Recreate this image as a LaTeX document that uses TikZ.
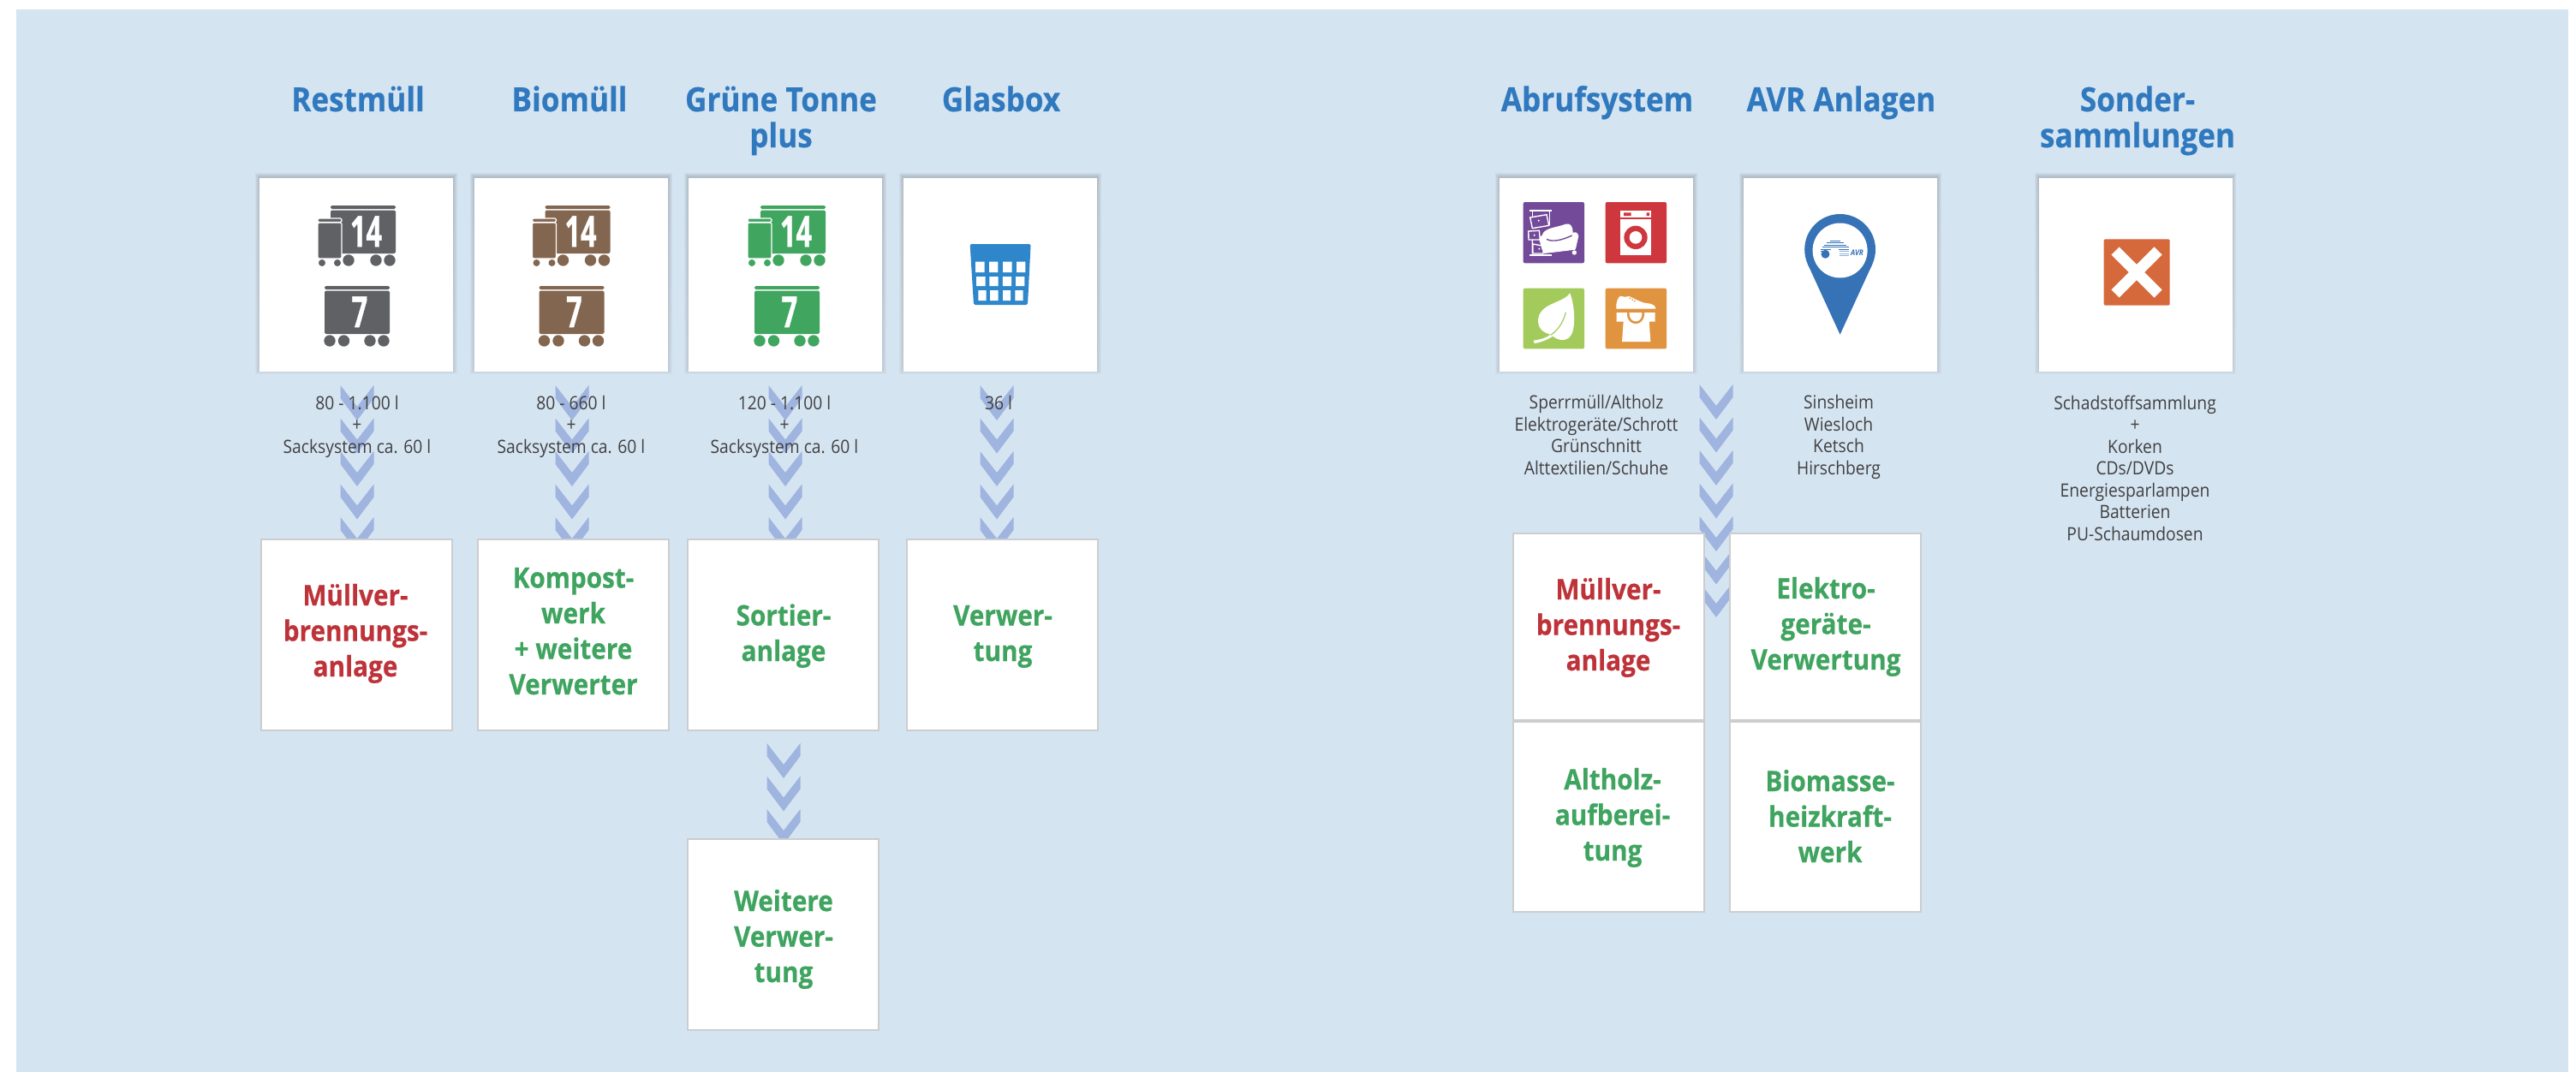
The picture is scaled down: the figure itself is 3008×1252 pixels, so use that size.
\documentclass[tikz,border=0pt]{standalone}
\usepackage{fontspec}
\setmainfont[FakeStretch=.9]{Open Sans}
\definecolor{bgblue}{HTML}{D5E4F1}
\definecolor{chev}{HTML}{9FB4DE}
\definecolor{titleblue}{HTML}{3079BF}
\definecolor{boxgreen}{HTML}{3FA45F}
\definecolor{boxred}{HTML}{BE3339}
\definecolor{txt}{HTML}{404041}
\definecolor{edge}{HTML}{CCCDCF}
\definecolor{shade}{HTML}{5A6E80}
\definecolor{bingrey}{HTML}{5F6165}
\definecolor{binbrown}{HTML}{836650}
\definecolor{bingreen}{HTML}{40A65F}
\definecolor{basket}{HTML}{2E86CB}
\definecolor{ipurple}{HTML}{734A9A}
\definecolor{ired}{HTML}{CF373E}
\definecolor{igreen}{HTML}{A2CB5B}
\definecolor{iorange}{HTML}{E19440}
\definecolor{pinblue}{HTML}{3572B6}
\definecolor{xorange}{HTML}{D5693C}
\tikzset{
  topbox/.style={fill=white,inner sep=0pt,minimum width=113pt,minimum height=113pt},
  lowbox/.style={fill=white,draw=edge,line width=1pt,inner sep=0pt,minimum width=111.5pt,minimum height=111.5pt},
  title/.style={inner sep=0pt,anchor=base,align=center,text=titleblue,font=\fontsize{19.5}{21}\selectfont\bfseries\addfontfeature{FakeBold=.5}},
  small/.style={inner sep=0pt,anchor=base,align=center,text=txt,font=\fontsize{10.7}{12.75}\selectfont},
  boxlabel/.style={inner sep=0pt,anchor=base,align=center,font=\fontsize{16.5}{20.75}\selectfont\bfseries\addfontfeature{FakeBold=.5}},
  digit/.style={inner sep=0pt,anchor=base,text=white,font=\fontsize{25}{25}\selectfont\bfseries\addfontfeature{FakeBold=1}},
}
\newcommand{\softshadow}[4]{%
  \foreach \d in {1,...,5}{\fill[shade,opacity=.022] (#1-\d,#2-\d-1) rectangle (#3+\d,#4+\d-2);}}
\newcommand{\chevrons}[3]{%
  \foreach \k in {1,...,#3}{%
    \pgfmathsetmacro{\ty}{#2+(\k-1)*38.5}
    \fill[chev] (#1-19.5,\ty) -- (#1,\ty+25) -- (#1+19.5,\ty) -- (#1+19.5,\ty+15) -- (#1,\ty+41) -- (#1-19.5,\ty+15) -- cycle;}}
\newcommand{\binicon}[3]{%
  \begin{scope}[shift={(#2,0)}]
    \fill[#3,rounded corners=.8pt] (386,240) rectangle (462,244);
    \fill[#3,rounded corners=.8pt] (386,245.5) rectangle (462,296);
    \foreach \cx in {407,439,455}{\fill[#3] (\cx,304) circle[radius=6.7];}
    \node[digit] (#1a) at (427.5,288) {\scalebox{.72}[1]{14}};
    \fill[#3,draw=white,line width=.6pt,rounded corners=.8pt] (371,260) rectangle (399,302);
    \fill[#3,draw=white,line width=.6pt,rounded corners=.8pt] (371,255) rectangle (399,259.5);
    \foreach \cx in {376,394}{\fill[#3] (\cx,307) circle[radius=4];}
    \fill[#3,rounded corners=.8pt] (379,334) rectangle (455,338);
    \fill[#3,rounded corners=.8pt] (379,339.5) rectangle (455,390);
    \foreach \cx in {385,401.5,432,448}{\fill[#3] (\cx,398) circle[radius=6.7];}
    \node[digit] (#1b) at (420,382) {\scalebox{.72}[1]{7}};
  \end{scope}}
\begin{document}
\begin{tikzpicture}[x=0.5pt,y=-0.5pt]
\useasboundingbox (0,0) rectangle (3008,1252);
\fill[white] (0,0) rectangle (3008,1252);
\fill[bgblue] (19,11) rectangle (2999,1252);
% chevrons
\chevrons{417}{450}{5}
\chevrons{668}{450}{5}
\chevrons{917}{450}{5}
\chevrons{1164}{450}{5}
\chevrons{915}{868}{3}
\chevrons{2004}{449}{7}
% top boxes
\softshadow{303}{208}{529}{434}
\softshadow{554}{208}{780}{434}
\softshadow{804}{208}{1030}{434}
\softshadow{1055}{208}{1281}{434}
\softshadow{1751}{208}{1977}{434}
\softshadow{2036}{208}{2262}{434}
\softshadow{2381}{208}{2606}{434}
\node[topbox] (rest) at (416,321) {};
\node[topbox] (bio) at (667,321) {};
\node[topbox] (gruen) at (917,321) {};
\node[topbox] (glas) at (1168,321) {};
\node[topbox] (abruf) at (1864,321) {};
\node[topbox] (avr) at (2149,321) {};
\node[topbox] (sonder) at (2493.5,321) {};
% lower boxes
\node[lowbox] (l1) at (416,741) {};
\node[lowbox] (l2) at (669.5,741) {};
\node[lowbox] (l3) at (914,741) {};
\node[lowbox] (l4) at (1170,741) {};
\node[lowbox] (l5) at (914,1091) {};
\node[lowbox,minimum height=109pt] (r1) at (1878,732) {};
\node[lowbox,minimum height=111pt] (r2) at (1878,954) {};
\node[lowbox,minimum height=109pt] (r3) at (2131,732) {};
\node[lowbox,minimum height=111pt] (r4) at (2131,954) {};
% titles
\node[title] (t1) at (418,130) {Restmüll};
\node[title] (t2) at (665,130) {Biomüll};
\node[title] (t3) at (912,172) {Grüne Tonne\\plus};
\node[title] (t4) at (1169,130) {Glasbox};
\node[title] (t5) at (1865,130) {Abrufsystem};
\node[title] (t6) at (2150,130) {AVR Anlagen};
\node[title] (t7) at (2496,172) {Sonder-\\sammlungen};
% small texts
\node[small] (s1) at (417,529) {80 - 1.100 l\\+\\Sacksystem ca. 60 l};
\node[small] (s2) at (667,529) {80 - 660 l\\+\\Sacksystem ca. 60 l};
\node[small] (s3) at (916,529) {120 - 1.100 l\\+\\Sacksystem ca. 60 l};
\node[small] (s4) at (1166,478) {36 l};
\node[small] (s5) at (1864,554) {Sperrmüll/Altholz\\Elektrogeräte/Schrott\\Grünschnitt\\Alttextilien/Schuhe};
\node[small] (s6) at (2147,554) {Sinsheim\\Wiesloch\\Ketsch\\Hirschberg};
\node[small] (s7) at (2493,631) {Schadstoffsammlung\\+\\Korken\\CDs/DVDs\\Energiesparlampen\\Batterien\\PU-Schaumdosen};
% box labels
\node[boxlabel,text=boxred] (b1) at (415,790) {Müllver-\\brennungs-\\anlage};
\node[boxlabel,text=boxgreen] (b2) at (669.5,811) {Kompost-\\werk\\+ weitere\\Verwerter};
\node[boxlabel,text=boxgreen] (b3) at (915,772) {Sortier-\\anlage};
\node[boxlabel,text=boxgreen] (b4) at (1171,772) {Verwer-\\tung};
\node[boxlabel,text=boxgreen] (b5) at (915,1147) {Weitere\\Verwer-\\tung};
\node[boxlabel,text=boxred] (b6) at (1878,783) {Müllver-\\brennungs-\\anlage};
\node[boxlabel,text=boxgreen] (b7) at (2132,782) {Elektro-\\geräte-\\Verwertung};
\node[boxlabel,text=boxgreen] (b8) at (1883,1005) {Altholz-\\aufberei-\\tung};
\node[boxlabel,text=boxgreen] (b9) at (2137,1007) {Biomasse-\\heizkraft-\\werk};
% bin icons
\binicon{ra}{0}{bingrey}
\binicon{ba}{250.5}{binbrown}
\binicon{ga}{502}{bingreen}
% basket
\fill[basket,rounded corners=.8pt] (1132.6,285) -- (1203.6,285) -- (1200,356) -- (1137,356) -- cycle;
\fill[white] (1139.2,305.7) rectangle (1149.5,318) (1155,305.7) rectangle (1165.3,318) (1171.2,305.7) rectangle (1181.5,318) (1187,305.7) rectangle (1197.4,318);
\fill[white] (1140.2,323) rectangle (1150.5,334) (1155.3,323) rectangle (1165.7,334) (1170.9,323) rectangle (1181.2,334) (1186,323) rectangle (1196.3,334);
\fill[white] (1142.3,339) rectangle (1151.7,351) (1156,339) rectangle (1165.7,351) (1171,339) rectangle (1180,351) (1185.4,339) rectangle (1194.6,351);
% four icons
\begin{scope}[shift={(1770,230)},x=0.16667pt,y=-0.16667pt]
  \fill[ipurple,rounded corners=1pt] (26,18) rectangle (240,232);
  \fill[ired,rounded corners=1pt] (314,18) rectangle (528,232);
  \fill[igreen,rounded corners=1pt] (26,320) rectangle (240,532);
  \fill[iorange,rounded corners=1pt] (314,320) rectangle (528,532);
  % dresser
  \begin{scope}[draw=white,line width=.7pt]
    \fill[white] (48,45) rectangle (125,52);
    \draw (58,52) -- (58,70) (118,52) -- (118,100);
    \draw (50,72) -- (108,62) -- (116,100) -- (58,110) -- cycle;
    \fill[white] (80,83) circle[radius=3.5];
    \draw (44,120) -- (82,118) -- (85,150) -- (45,150) -- cycle;
    \fill[white] (65,134) circle[radius=3.5];
    \draw (58,150) -- (58,200) (60,165) -- (98,172) -- (96,198) -- (60,198) -- cycle;
    \fill[white] (82,182) circle[radius=3.5];
    \fill[white] (48,200) -- (125,200) -- (125,206) -- (48,206) -- cycle;
  \end{scope}
  % sofa
  \fill[white] (92,135) .. controls (98,108) and (140,108) .. (175,95) .. controls (192,90) and (200,105) .. (200,125) .. controls (215,118) and (225,135) .. (217,150) .. controls (213,165) and (212,178) .. (208,185) -- (100,198) .. controls (90,190) and (88,165) .. (82,150) .. controls (80,142) and (86,136) .. (92,135) -- cycle;
  \fill[white] (205,195) circle[radius=8];
  \draw[ipurple,line width=.7pt] (108,148) .. controls (130,160) and (165,150) .. (197,135);
  % washer
  \fill[white] (367,48) rectangle (473,204);
  \fill[ired] (367,72) rectangle (473,77);
  \fill[ired] (378,55) rectangle (404,66) (458,55) rectangle (468,66);
  \fill[ired] (420,142) circle[radius=41];
  \fill[white] (420,142) circle[radius=22];
  % leaf
  \fill[white] (190,337) .. controls (170,365) and (120,370) .. (95,395) .. controls (70,420) and (75,455) .. (95,470) .. controls (105,478) and (115,480) .. (122,482) .. controls (105,495) and (85,500) .. (62,503) -- (65,513) .. controls (90,510) and (110,500) .. (130,488) .. controls (150,505) and (185,510) .. (198,475) .. controls (210,440) and (205,380) .. (190,337) -- cycle;
  \draw[igreen,line width=.6pt] (175,405) .. controls (165,440) and (150,465) .. (122,484);
  % shoe and shirt
  \fill[white] (352,392) .. controls (350,370) and (358,350) .. (367,347) .. controls (375,352) and (385,350) .. (397,348) .. controls (420,358) and (440,372) .. (465,373) .. controls (480,375) and (490,382) .. (490,392) -- cycle;
  \fill[iorange] (400,355) circle[radius=3] (408,360) circle[radius=3] (416,365) circle[radius=3];
  \fill[white] (353,405) -- (488,405) -- (488,437) -- (467,437) -- (472,507) -- (372,507) -- (377,437) -- (353,437) -- cycle;
  \fill[iorange] (390,405) -- (450,405) -- (450,412) .. controls (448,455) and (392,455) .. (390,412) -- cycle;
  \fill[white] (398,405) -- (442,405) -- (442,412) .. controls (440,444) and (400,444) .. (398,412) -- cycle;
\end{scope}
% pin
\fill[pinblue] (2148.6,291.4) circle[radius=41.4];
\fill[pinblue] (2110.9,308.6) -- (2148.6,390.7) -- (2186.3,308.6) -- cycle;
\fill[white] (2148.6,292.5) circle[radius=32];
\begin{scope}[shift={(1720,180)},x=0.17857pt,y=-0.17857pt]
  \begin{scope}[draw=pinblue,line width=.55pt]
    \draw (1168,283) -- (1200,283) (1155,290) -- (1212,290) (1148,297) -- (1222,297) (1143,304) -- (1228,304) (1138,311) -- (1170,311) (1195,311) -- (1230,311) (1136,318) -- (1156,318);
  \end{scope}
  \begin{scope}[draw=pinblue!55,line width=.55pt]
    \draw (1197,318) -- (1230,318) (1197,325) -- (1230,325) (1197,331) -- (1230,331);
  \end{scope}
  \fill[pinblue] (1152,327) circle[radius=14];
  \node[inner sep=0pt,anchor=base,text=pinblue,font=\fontsize{4.6}{5}\selectfont\bfseries\itshape] (avrlogo) at (1256,333) {AVR};
\end{scope}
% cross
\fill[xorange,rounded corners=1pt] (2456.6,279.3) rectangle (2533.7,356.7);
\draw[white,line width=6.5pt] (2470,293) -- (2520,343) (2520,293) -- (2470,343);
\end{tikzpicture}
\end{document}
